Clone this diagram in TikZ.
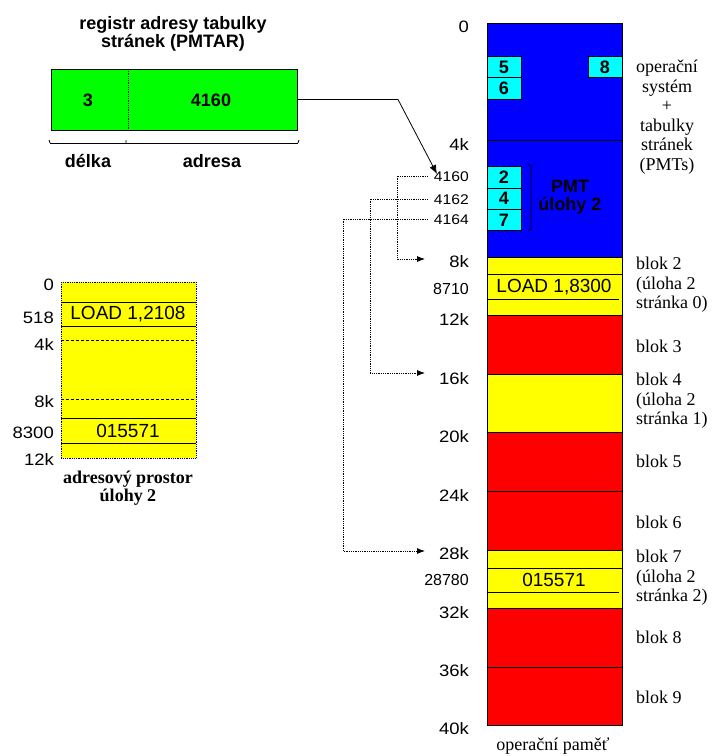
\documentclass[tikz,border=0pt]{standalone}
\usepackage{fontspec}
\setmainfont{Liberation Serif}
\setsansfont{Liberation Sans}
\newfontfamily\lblfont[FakeStretch=1.12]{Liberation Sans}
\usetikzlibrary{arrows.meta}
\definecolor{memblue}{RGB}{0,0,255}
\definecolor{memred}{RGB}{255,0,0}
\definecolor{memyel}{RGB}{255,255,0}
\definecolor{memcyan}{RGB}{0,255,255}
\definecolor{reggreen}{RGB}{0,255,0}
\begin{document}
\begin{tikzpicture}[x=1pt,y=-1pt,
  addr/.style={font=\lblfont\fontsize{16.5}{18}\selectfont, anchor=east, inner sep=0pt, text height=11.8pt, text depth=0pt},
  saddr/.style={font=\lblfont\fontsize{14}{16}\selectfont, anchor=east, inner sep=0pt, text height=10pt, text depth=0pt},
  maddr/.style={font=\sffamily\fontsize{16}{18}\selectfont, anchor=east, inner sep=0pt, text height=11.5pt, text depth=0pt},
  lab/.style={font=\fontsize{18}{19.5}\selectfont, inner sep=0pt, align=left, anchor=west},
  labc/.style={font=\fontsize{18}{19.5}\selectfont, inner sep=0pt, align=center},
  bsans/.style={font=\sffamily\bfseries\fontsize{18}{18.5}\selectfont, inner sep=0pt, align=center},
  bserif/.style={font=\bfseries\fontsize{18}{16}\selectfont, inner sep=0pt, align=center},
  instr/.style={font=\sffamily\fontsize{19}{20}\selectfont, inner sep=0pt},
  cell/.style={draw=black, line width=0.8pt, fill=memcyan, minimum width=34pt, minimum height=21.3pt, inner sep=0pt, font=\sffamily\bfseries\fontsize{18}{18}\selectfont},
  thin/.style={line width=0.8pt},
  dots/.style={densely dotted, line width=0.8pt, -{Latex[length=8pt,width=6pt]}},
]
\useasboundingbox[fill=white] (0,0) rectangle (713,756);

% ---------- register PMTAR ----------
\node[bsans] (regtitle) at (173,34) {registr adresy tabulky\\stránek (PMTAR)};
\node[draw=black, thin, fill=reggreen, minimum width=246pt, minimum height=61pt, inner sep=0pt] (reg) at (174,99.5) {};
\draw[densely dotted, thin] (128,69) -- (128,130);
\node[bsans] (reglen) at (88,100) {3};
\node[bsans] (regaddr) at (211,100) {4160};
\draw[thin] (50,143) -- (298,143);
\draw[thin] (50,143) -- (49,140) (126,143) -- (126,140) (298,143) -- (299,140);
\node[bsans] (lenlab) at (88,161) {délka};
\node[bsans] (addrlab) at (212,161) {adresa};

% ---------- address space of task 2 ----------
\fill[memyel] (61,282) rectangle (196,458);
\draw[densely dotted, thin] (61,282) rectangle (196,458);
\draw[thin] (61,302) -- (196,302) (61,326) -- (196,326) (61,418) -- (196,418) (61,443) -- (196,443);
\draw[densely dashed, thin] (61,340) -- (196,340) (61,399) -- (196,399);
\node[instr] (load1) at (128,314) {LOAD 1,2108};
\node[instr] (data1) at (128,431) {015571};
\node[addr] (a0) at (54,285) {0};
\node[addr] (a518) at (54,318) {518};
\node[addr] (a4k) at (54,345) {4k};
\node[addr] (a8k) at (54,402) {8k};
\node[addr] (a8300) at (54,433) {8300};
\node[addr] (a12k) at (54,460) {12k};
\node[bserif] (astitle) at (128,488) {adresový prostor\\úlohy 2};

% ---------- main memory ----------
\fill[memblue] (487,23) rectangle (622,257);
\fill[memyel] (487,257) rectangle (622,315.6);
\fill[memred] (487,315.6) rectangle (622,374.2);
\fill[memyel] (487,374.2) rectangle (622,432.8);
\fill[memred] (487,432.8) rectangle (622,550);
\fill[memyel] (487,550) rectangle (622,608.6);
\fill[memred] (487,608.6) rectangle (622,725.8);
\draw[thin] (487,140) -- (622,140) (487,257) -- (622,257) (487,315.6) -- (622,315.6)
  (487,374.2) -- (622,374.2) (487,432.8) -- (622,432.8) (487,491.4) -- (622,491.4)
  (487,550) -- (622,550) (487,608.6) -- (622,608.6) (487,667.2) -- (622,667.2);
\draw[thin] (487,274) -- (622,274) (487,299) -- (619,299);
\draw[thin] (487,568) -- (622,568) (487,592) -- (619,592);
\draw[thin] (487,23) rectangle (622,725.8);
\node[instr] (load2) at (554,287) {LOAD 1,8300};
\node[instr] (data2) at (554,580) {015571};

\node[cell] (c5) at (504,67) {5};
\node[cell] (c6) at (504,88.3) {6};
\node[cell] (c8) at (605,67) {8};
\node[cell] (c2) at (504,177.3) {2};
\node[cell] (c4) at (504,198.6) {4};
\node[cell] (c7) at (504,219.9) {7};
\draw[thin] (528,164) -- (531,166) -- (531,229) -- (528,231);
\node[bsans] (pmt) at (570,197) {PMT\\úlohy 2};

\node[addr] (m0) at (469,27) {0};
\node[addr] (m4) at (469,145) {4k};
\node[addr] (m8) at (469,262) {8k};
\node[addr] (m12) at (469,320) {12k};
\node[addr] (m16) at (469,379) {16k};
\node[addr] (m20) at (469,437) {20k};
\node[addr] (m24) at (469,496) {24k};
\node[addr] (m28) at (469,554) {28k};
\node[addr] (m32) at (469,613) {32k};
\node[addr] (m36) at (469,671) {36k};
\node[addr] (m40) at (469,729) {40k};
\node[maddr] (m8710) at (469,289) {8710};
\node[maddr] (m28780) at (469,580) {28780};
\node[saddr] (p0) at (469,176) {4160};
\node[saddr] (p1) at (469,199) {4162};
\node[saddr] (p2) at (469,219) {4164};

\node[labc] (oslab) at (667,117) {operační\\systém\\+\\tabulky\\stránek\\(PMTs)};
\node[lab] (b2) at (636,285) {blok 2\\(úloha 2\\stránka 0)};
\node[lab] (b3) at (636,346) {blok 3};
\node[lab] (b4) at (636,401) {blok 4\\(úloha 2\\stránka 1)};
\node[lab] (b5) at (636,461) {blok 5};
\node[lab] (b6) at (636,522) {blok 6};
\node[lab] (b7) at (636,578) {blok 7\\(úloha 2\\stránka 2)};
\node[lab] (b8) at (636,637) {blok 8};
\node[lab] (b9) at (636,697) {blok 9};
\node[labc] (memtitle) at (553,746) {operační paměť};

% ---------- connectors ----------
\coordinate (regbend) at (398,99.5);
\coordinate (pmtin) at (437,174);
\draw[thin, -{Latex[length=9pt,width=7pt]}] (reg.east) -- (regbend) -- (pmtin);

\coordinate (t8) at (425,259);
\coordinate (t16) at (425,373);
\coordinate (t28) at (425,551);
\draw[dots] ([xshift=-6pt]p0.west) -- (397,176) -- (397,259) -- (t8);
\draw[dots] ([xshift=-6pt]p1.west) -- (370,199) -- (370,373) -- (t16);
\draw[dots] ([xshift=-6pt]p2.west) -- (343,219) -- (343,551) -- (t28);
\end{tikzpicture}
\end{document}
